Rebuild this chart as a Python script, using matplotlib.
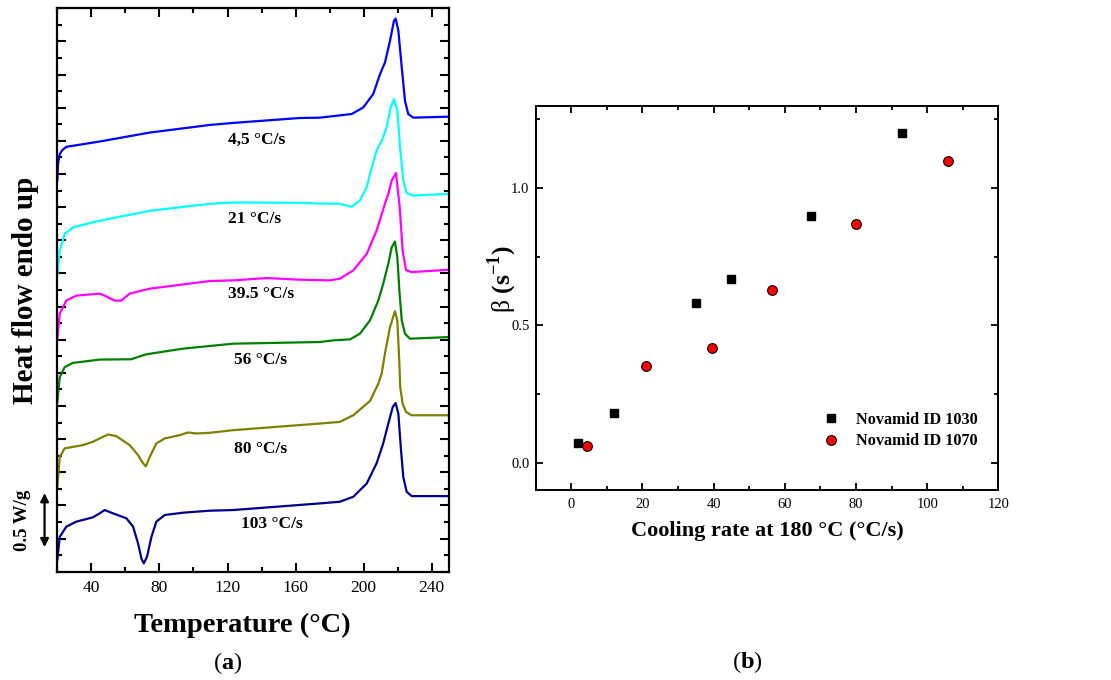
import numpy as np
import matplotlib
matplotlib.use("Agg")
import matplotlib.pyplot as plt
from matplotlib.ticker import MultipleLocator

plt.rcParams['font.family'] = 'Liberation Serif'
plt.rcParams['mathtext.fontset'] = 'custom'
plt.rcParams['mathtext.rm'] = 'Liberation Serif'
plt.rcParams['mathtext.bf'] = 'Liberation Serif:bold'

# (a) DSC heating curves (T in C, heat flow in tick units)
t_45 = [20, 20.4, 21.4, 22.9, 25.3, 44.9, 74.3, 109.6, 123, 162.5, 174.3, 193, 199.8, 205.6,
        209.6, 212.5, 215.5, 217.8, 218.8, 220.4, 222.4, 224.3, 226.2, 229.2, 250]
hf_45 = [11.80, 12.30, 12.60, 12.72, 12.82, 12.98, 13.25, 13.48, 13.54, 13.69, 13.70, 13.81, 14.01, 14.41,
         15.01, 15.36, 16.02, 16.62, 16.69, 16.32, 15.21, 14.21, 13.81, 13.70, 13.73]

t_21 = [20, 21.4, 24.3, 29.2, 44.9, 74.3, 109.6, 123, 162.5, 174.3, 186, 193, 197.8, 201.8, 203.7,
        207.6, 209.6, 210.6, 213.5, 215.9, 217.8, 219.8, 221.4, 223.3, 225.3, 229.2, 250]
hf_21 = [8.94, 9.69, 10.19, 10.39, 10.59, 10.89, 11.10, 11.14, 11.13, 11.11, 11.10, 11.01, 11.20, 11.60, 12.0,
         12.70, 12.91, 13.0, 13.40, 14.01, 14.26, 13.91, 12.80, 11.80, 11.42, 11.35, 11.40]

t_395 = [20, 21.4, 25.3, 31.2, 44.9, 47.8, 53.7, 57.6, 62.5, 74.3, 109.6, 123.3, 143, 162.5, 180.2,
         186, 193.9, 201.8, 207.6, 212.5, 214.5, 216.5, 219.0, 221.2, 222.9, 224.9, 228.2, 250]
hf_395 = [7.03, 7.78, 8.18, 8.33, 8.39, 8.33, 8.18, 8.18, 8.39, 8.54, 8.77, 8.79, 8.86, 8.81, 8.79,
          8.84, 9.09, 9.59, 10.29, 11.10, 11.40, 11.80, 12.03, 11.0, 9.7, 9.1, 9.04, 9.11]

t_56 = [20, 21.4, 24.3, 29.2, 44.9, 63.5, 67.4, 72.4, 93.9, 109.6, 123.3, 174.3, 182.1, 192, 197.8,
        203.7, 208.6, 211.5, 214.5, 216.5, 218.4, 219.8, 221, 222.4, 224.3, 227.2, 250]
hf_56 = [5.12, 5.87, 6.17, 6.30, 6.40, 6.41, 6.48, 6.56, 6.73, 6.81, 6.88, 6.93, 6.98, 7.01, 7.18,
         7.58, 8.18, 8.69, 9.29, 9.79, 9.96, 9.49, 8.48, 7.58, 7.18, 7.03, 7.08]

t_80 = [20, 21.4, 24.3, 35.1, 40.9, 44.9, 49.8, 54.7, 62.5, 67.4, 70.4, 72, 74.3, 78.2, 83.1,
        91.9, 96.8, 101.8, 109.6, 123.3, 174.3, 186, 193.9, 203.7, 208.6, 210.6, 212.5, 215.5,
        218.4, 219.8, 221, 221.5, 222.9, 224.9, 228.2, 250]
hf_80 = [2.56, 3.46, 3.72, 3.82, 3.92, 4.02, 4.14, 4.09, 3.82, 3.52, 3.27, 3.18, 3.46, 3.87, 4.02,
         4.12, 4.20, 4.17, 4.19, 4.27, 4.47, 4.52, 4.72, 5.15, 5.67, 5.98, 6.58, 7.38,
         7.86, 7.58, 6.28, 5.57, 5.07, 4.82, 4.72, 4.72]

t_103 = [20, 21.4, 25.3, 31.2, 40.9, 44.9, 47.8, 52.7, 60.6, 64.5, 67.4, 69.4, 70.8, 72.7, 75.3,
         78.2, 83.1, 93.9, 109.6, 123.3, 174.3, 186, 193.9, 201.8, 207.6, 211.5, 214.5, 217.1,
         218.8, 220.4, 221.8, 223.3, 225.3, 228.2, 250]
hf_103 = [0.35, 1.05, 1.36, 1.51, 1.64, 1.76, 1.86, 1.76, 1.61, 1.36, 0.86, 0.40, 0.25, 0.45, 1.05,
          1.51, 1.71, 1.78, 1.84, 1.86, 2.06, 2.11, 2.26, 2.66, 3.27, 3.87, 4.47, 4.97,
          5.09, 4.77, 3.77, 2.86, 2.41, 2.28, 2.28]

curves = [(t_45, hf_45, '#0000ff', '4,5 °C/s', 137, 13.03),
          (t_21, hf_21, '#00ffff', '21 °C/s', 136, 10.65),
          (t_395, hf_395, '#ff00ff', '39.5 °C/s', 140, 8.39),
          (t_56, hf_56, '#008000', '56 °C/s', 139.6, 6.38),
          (t_80, hf_80, '#808000', '80 °C/s', 139.6, 3.70),
          (t_103, hf_103, '#00008f', '103 °C/s', 146, 1.43)]

# (b) beta vs cooling rate
rate_1030 = [1.9, 11.9, 35.0, 44.9, 67.3, 92.9]
beta_1030 = [0.071, 0.18, 0.581, 0.669, 0.90, 1.20]
rate_1070 = [4.5, 20.9, 39.4, 56.3, 79.9, 105.9]
beta_1070 = [0.061, 0.35, 0.419, 0.629, 0.869, 1.10]

fig = plt.figure(figsize=(11.11, 6.80), dpi=100)
ax1 = fig.add_axes([0.0516, 0.1593, 0.3523, 0.8285])
ax2 = fig.add_axes([0.4822, 0.2794, 0.4164, 0.5651])

# ---- panel a
for t, hf, c, lab, tx, ty in curves:
    ax1.plot(t, hf, color=c, lw=1.6, solid_joinstyle='round')
    ax1.text(tx, ty, lab, ha='center', va='center', fontsize=12.5, fontweight='bold')

ax1.set_xlim(20, 250)
ax1.set_ylim(0, 17)
ax1.xaxis.set_major_locator(MultipleLocator(40))
ax1.xaxis.set_minor_locator(MultipleLocator(20))
ax1.yaxis.set_major_locator(MultipleLocator(1))
ax1.yaxis.set_minor_locator(MultipleLocator(0.5))
ax1.tick_params(which='both', direction='in', top=True, right=True, width=1.5)
ax1.tick_params(which='major', length=6.5, labelsize=12.5, pad=6)
ax1.tick_params(which='minor', length=3.5)
ax1.tick_params(axis='y', labelleft=False)
for s in ax1.spines.values():
    s.set_linewidth(1.6)
ax1.set_xlabel('Temperature (°C)', fontsize=20.5, fontweight='bold', va='center')
ax1.xaxis.set_label_coords(0.472, -0.0946)
ax1.set_ylabel('Heat flow endo up', fontsize=21, fontweight='bold', va='center')
ax1.yaxis.set_label_coords(-0.0825, 0.5)

# 0.5 W/g scale bar
ax1.annotate('', xy=(12.5, 2.37), xytext=(12.5, 0.74), annotation_clip=False,
             arrowprops=dict(arrowstyle='<|-|>', color='black', lw=1.6, mutation_scale=12,
                             shrinkA=0, shrinkB=0))
ax1.text(-0.4, 1.56, '0.5 W/g', rotation=90, ha='center', va='center',
         fontsize=13.5, fontweight='bold')

# ---- panel b
ax2.plot(rate_1030, beta_1030, 's', color='black', ms=6, label='Novamid ID 1030')
ax2.plot(rate_1070, beta_1070, 'o', mfc='red', mec='black', mew=0.8, ms=7, label='Novamid ID 1070')
ax2.set_xlim(-10, 120)
ax2.set_ylim(-0.1, 1.3)
ax2.xaxis.set_major_locator(MultipleLocator(20))
ax2.xaxis.set_minor_locator(MultipleLocator(10))
ax2.yaxis.set_major_locator(MultipleLocator(0.5))
ax2.yaxis.set_minor_locator(MultipleLocator(0.25))
ax2.tick_params(which='both', direction='in', top=True, right=True, width=1.3)
ax2.tick_params(which='major', length=5, labelsize=10.5, pad=6)
ax2.tick_params(which='minor', length=3)
ax2.tick_params(axis='y', pad=4.5)
for s in ax2.spines.values():
    s.set_linewidth(1.4)
ax2.set_xlabel('Cooling rate at 180 °C (°C/s)', fontsize=16, fontweight='bold', va='center')
ax2.xaxis.set_label_coords(0.5, -0.106)
ax2.set_ylabel(r'$\mathrm{β}$ (s$^{\mathbf{-1}}$)', fontsize=18.5, fontweight='bold', va='center')
ax2.yaxis.set_label_coords(-0.073, 0.55)
ax2.legend(loc='lower right', bbox_to_anchor=(0.972, 0.085), frameon=False, borderpad=0,
           handlelength=1, handletextpad=1.0, labelspacing=0.35,
           prop={'weight': 'bold', 'size': 11.7})

fig.text(228 / 1111, 1 - 663 / 680, r'($\mathbf{a}$)', ha='center', va='center', fontsize=17.5)
fig.text(747 / 1111, 1 - 662 / 680, r'($\mathbf{b}$)', ha='center', va='center', fontsize=17.5)

fig.savefig('out.png', dpi=100)
